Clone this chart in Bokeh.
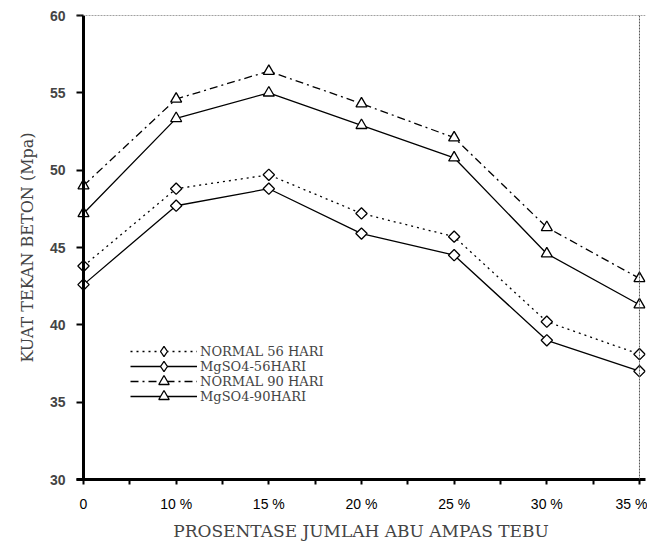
import math
from bokeh.plotting import figure
from bokeh.models import Range1d, FixedTicker, Legend, LegendItem, Span, ColumnDataSource
from bokeh.embed import file_html
from bokeh.resources import INLINE

categories = ["0", "10 %", "15 %", "20 %", "25 %", "30 %", "35 %"]
normal56 = [43.8, 48.8, 49.7, 47.2, 45.7, 40.2, 38.1]
mgso4_56 = [42.6, 47.7, 48.8, 45.9, 44.5, 39.0, 37.0]
normal90 = [49.0, 54.6, 56.4, 54.3, 52.1, 46.3, 43.0]
mgso4_90 = [47.2, 53.35, 55.0, 52.9, 50.8, 44.6, 41.3]
y_ticks = [30, 35, 40, 45, 50, 55, 60]

xs = list(range(len(categories)))
SERIF = "DejaVu Serif"
SANS = "Liberation Sans"

p = figure(width=647, height=543, output_backend="svg", toolbar_location=None,
           x_range=Range1d(-0.0755, len(categories) - 1 + 0.065), y_range=Range1d(30, 60),
           min_border_left=76, min_border_right=2, min_border_top=15, min_border_bottom=63)
p.grid.visible = False
p.background_fill_color = "white"
p.border_fill_color = "white"
p.outline_line_color = None

# x axis
xa = p.xaxis[0]
xa.ticker = FixedTicker(ticks=xs, minor_ticks=[i + 0.5 for i in xs[:-1]])
xa.major_label_overrides = {i: c for i, c in zip(xs, categories)}
xa.axis_line_width = 3
xa.major_tick_line_width = 2
xa.minor_tick_line_width = 2
xa.major_tick_out = 5
xa.major_tick_in = 0
xa.minor_tick_out = 5
xa.minor_tick_in = 0
xa.major_label_text_font = SANS
xa.major_label_text_font_size = "14px"
xa.major_label_text_color = "black"
xa.major_label_standoff = 11
xa.axis_label = "PROSENTASE JUMLAH ABU AMPAS TEBU"
xa.axis_label_text_font = SERIF
xa.axis_label_text_font_size = "17px"
xa.axis_label_text_font_style = "normal"
xa.axis_label_standoff = 6

# y axis (line drawn as a span at x = 0)
ya = p.yaxis[0]
ya.ticker = FixedTicker(ticks=y_ticks, minor_ticks=[])
ya.axis_line_color = None
ya.major_tick_line_width = 2
ya.major_tick_out = 0
ya.major_tick_in = 7
ya.minor_tick_out = 0
ya.minor_tick_in = 0
ya.major_label_text_font = SANS
ya.major_label_text_font_size = "14px"
ya.major_label_text_font_style = "bold"
ya.major_label_standoff = 11
ya.axis_label = "KUAT TEKAN BETON (Mpa)"
ya.axis_label_text_font = SERIF
ya.axis_label_text_font_size = "16px"
ya.axis_label_text_font_style = "normal"
ya.axis_label_standoff = 10

p.add_layout(Span(location=0, dimension="height", line_color="black", line_width=3))
p.add_layout(Span(location=len(categories) - 1, dimension="height", line_color="#555555",
                  line_width=1, line_dash="2 1"))
p.add_layout(Span(location=60, dimension="width", line_color="#444444",
                  line_width=1, line_dash="2 1"))

series = [
    ("NORMAL 56 HARI", normal56, "2 4", "square"),
    ("MgSO4-56HARI", mgso4_56, "solid", "square"),
    ("NORMAL 90 HARI", normal90, "8 4 2 4", "triangle"),
    ("MgSO4-90HARI", mgso4_90, "solid", "triangle"),
]
legend_y = [115, 100, 85, 70]
for (name, ys, dash, mk), ly in zip(series, legend_y):
    src = ColumnDataSource(data=dict(x=xs, y=ys))
    ln = p.line("x", "y", source=src, line_color="black", line_width=1.3, line_dash=dash)
    if mk == "square":
        p.scatter("x", "y", source=src, marker="square", size=8, angle=math.pi / 4,
                  fill_color="white", line_color="black", line_width=1.3)
        # legend key only: zero size in the plot, sized by the legend box
        key = p.scatter("x", "y", source=src, marker="diamond", size=0,
                        fill_color="white", line_color="black", line_width=1.3)
    else:
        key = p.scatter("x", "y", source=src, marker="triangle", size=11,
                        fill_color="white", line_color="black", line_width=1.3)
    lg = Legend(items=[LegendItem(label=name, renderers=[ln, key])],
                location=(54, ly), padding=0, spacing=0,
                glyph_width=67, glyph_height=26, label_height=12,
                label_standoff=3, label_text_font=SERIF,
                label_text_font_size="13px", border_line_color=None,
                background_fill_alpha=0, margin=0)
    p.add_layout(lg)

open("out.html", "w").write(file_html(p, INLINE))
